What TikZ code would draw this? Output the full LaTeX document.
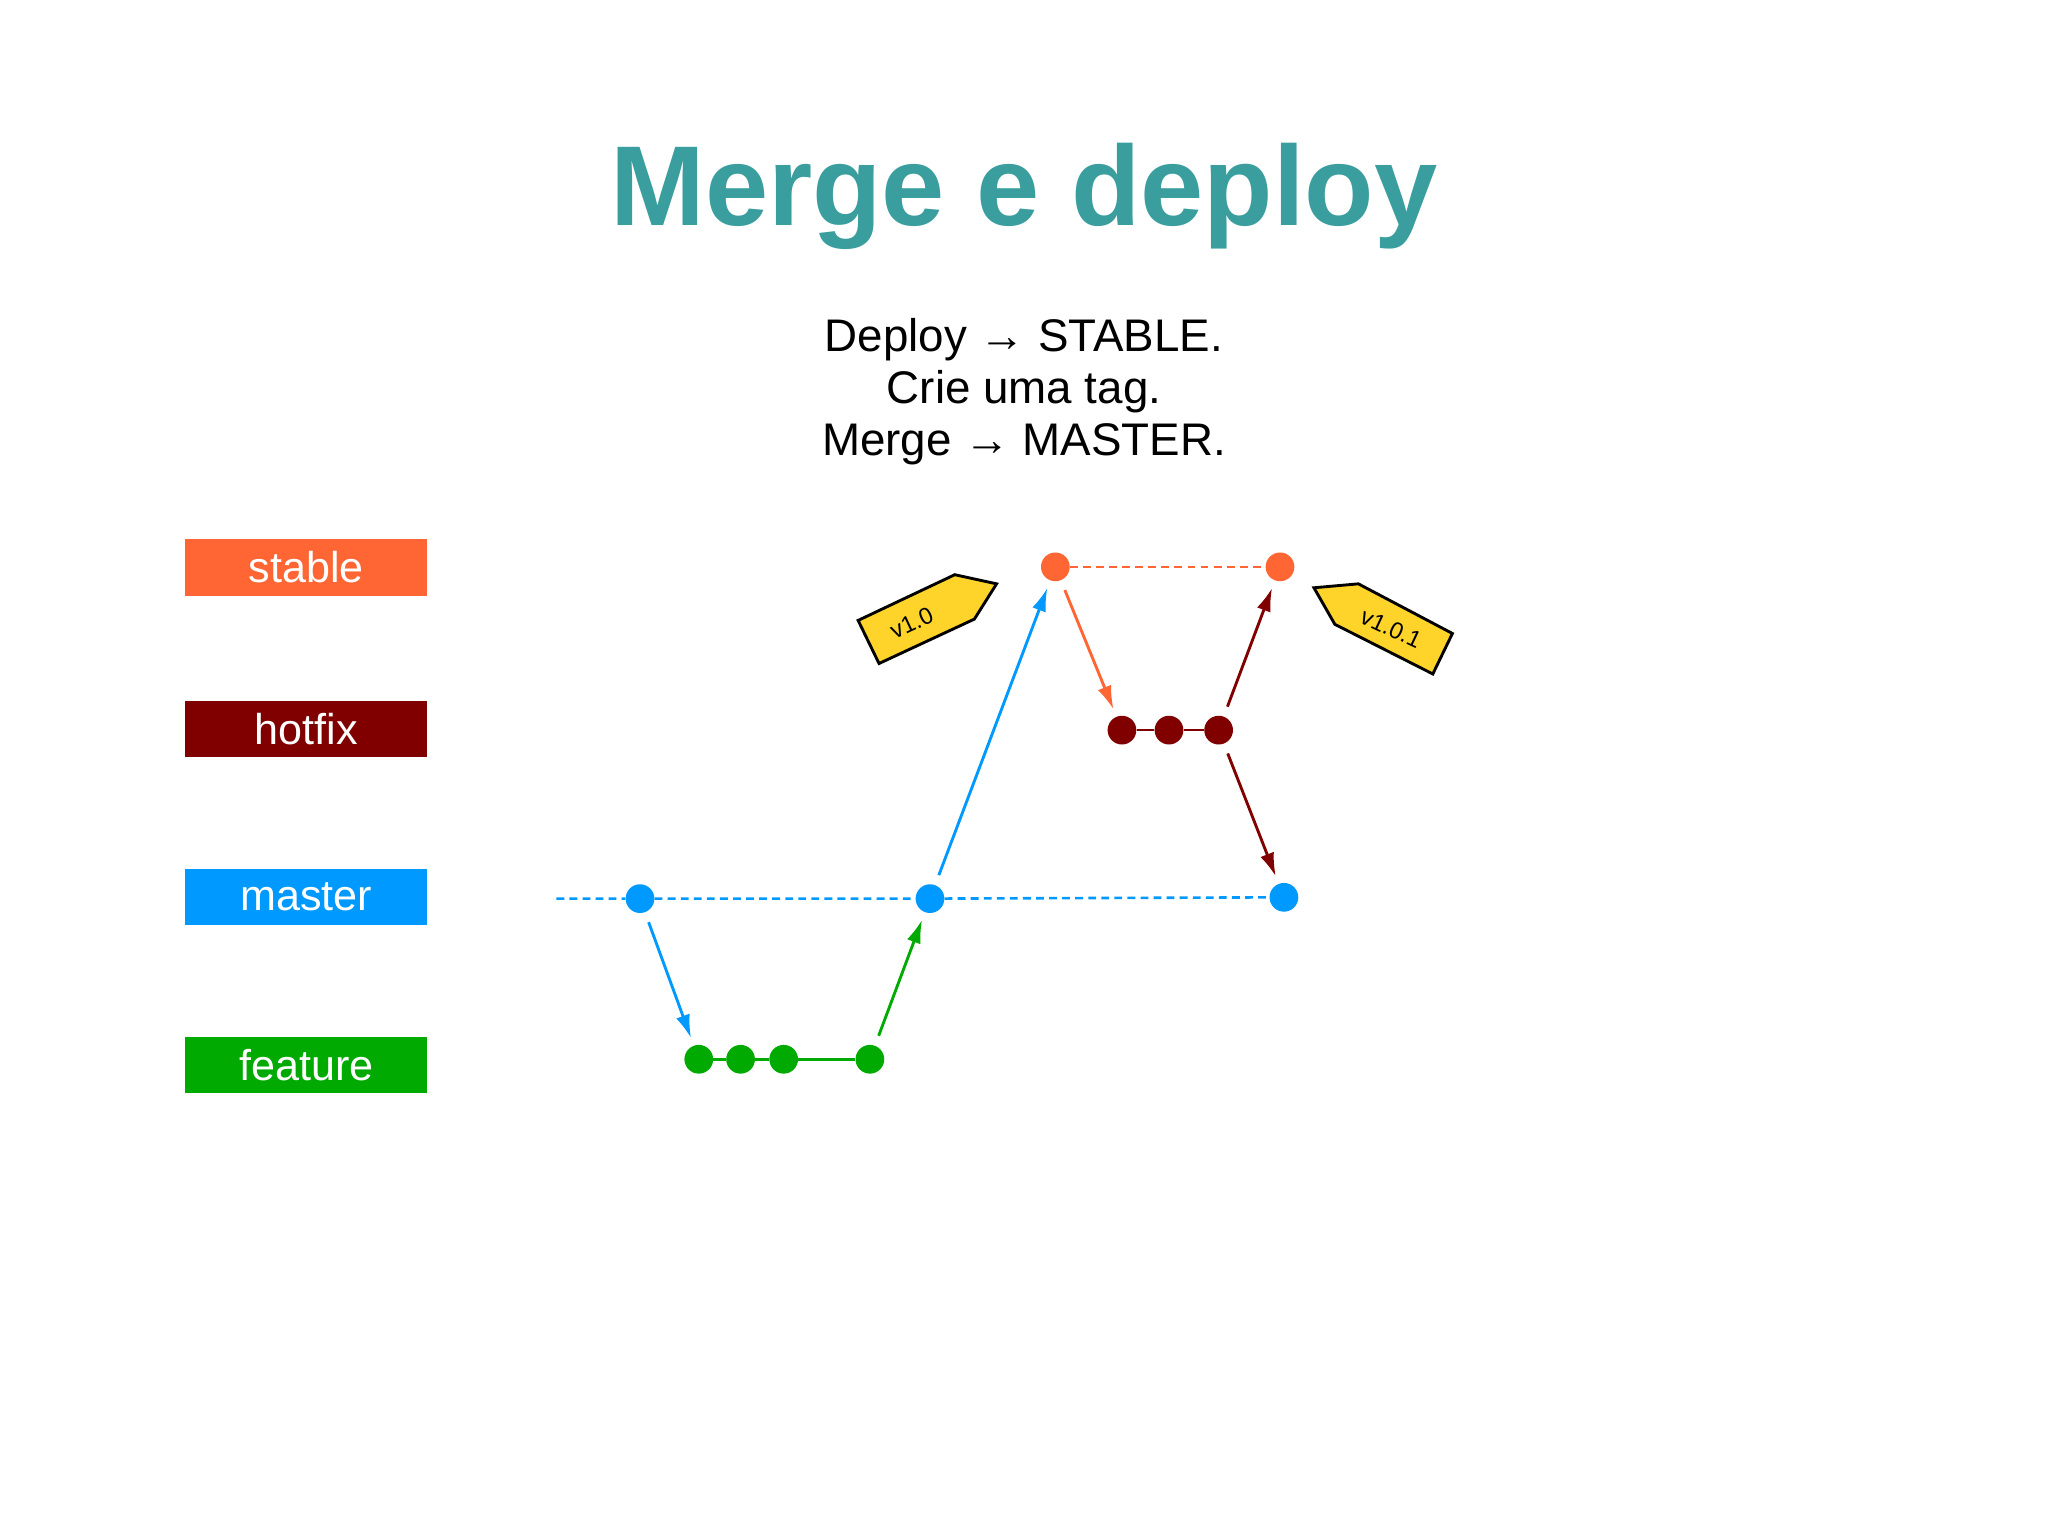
\documentclass[tikz,border=0pt]{standalone}
\usepackage{fontspec}
\setmainfont{Liberation Sans}
\usetikzlibrary{arrows.meta}
\definecolor{cst}{HTML}{FF6633}
\definecolor{chf}{HTML}{800000}
\definecolor{cma}{HTML}{0099FF}
\definecolor{cfe}{HTML}{00AA00}
\definecolor{ctitle}{HTML}{3A9E9E}
\definecolor{ctag}{HTML}{FFD42A}
\begin{document}
\begin{tikzpicture}[x=1pt,y=-1pt,
 lab/.style={minimum width=185pt,minimum height=43pt,inner sep=0pt,text=white,font=\fontsize{33}{33}\selectfont},
 dot/.style={circle,fill=#1,minimum size=22pt,inner sep=0pt},
 arr/.style={draw=#1,line width=2.2pt,-{Latex[length=18pt,width=11pt]},shorten <=8pt,shorten >=6pt},
 tag/.style={draw=black,line width=2.2pt,fill=ctag,line join=miter}]
\useasboundingbox (0,0) rectangle (1568,1175);
\node[text=ctitle,font=\bfseries\fontsize{87}{87}\selectfont] (title) at (784,150) {Merge e deploy};
\node[align=center,font=\fontsize{35}{40}\selectfont] (sub) at (784,300) {Deploy → STABLE.\\Crie uma tag.\\Merge → MASTER.};
\node[lab,fill=cst] (ls) at (234.5,434.5) {stable};
\node[lab,fill=chf] (lh) at (234.5,558) {hotfix};
\node[lab,fill=cma] (lm) at (234.5,686.5) {master};
\node[lab,fill=cfe] (lf) at (234.5,815.5) {feature};
\coordinate (m0) at (426,688);
\node[dot=cma] (m1) at (490,688) {};
\node[dot=cma] (m2) at (712,688) {};
\node[dot=cma] (m3) at (983,687) {};
\node[dot=cfe] (f1) at (535,811) {};
\node[dot=cfe] (f2) at (567,811) {};
\node[dot=cfe] (f3) at (600,811) {};
\node[dot=cfe] (f4) at (666,811) {};
\node[dot=chf] (h1) at (859,559) {};
\node[dot=chf] (h2) at (895,559) {};
\node[dot=chf] (h3) at (933,559) {};
\node[dot=cst] (s1) at (808,434) {};
\node[dot=cst] (s2) at (980,434) {};
\draw[cma,line width=2pt,dash pattern=on 6pt off 4pt] (m0)--(m1)--(m2)--(m3);
\draw[cst,line width=2pt,dash pattern=on 6pt off 4pt] (s1)--(s2);
\draw[cfe,line width=2pt] (f1)--(f2)--(f3)--(f4);
\draw[chf,line width=2pt] (h1)--(h2)--(h3);
\draw[arr=cma] (m1)--(f1);
\draw[arr=cfe] (f4)--(m2);
\draw[arr=cma] (m2)--(s1);
\draw[arr=cst] (s1)--(h1);
\draw[arr=chf] (h3)--(s2);
\draw[arr=chf] (h3)--(m3);
\draw[tag] (657,475)--(673,508)--(746,474)--(763,447)--(731,440)--cycle;
\node[rotate=25,font=\fontsize{18}{18}\selectfont,inner sep=0pt] (t1) at (698,477) {v1.0};
\draw[tag] (1006,450)--(1022,478)--(1097,516)--(1112,485)--(1040,447)--cycle;
\node[rotate=-25,font=\fontsize{18}{18}\selectfont,inner sep=0pt] (t2) at (1065,481) {v1.0.1};
\end{tikzpicture}
\end{document}
